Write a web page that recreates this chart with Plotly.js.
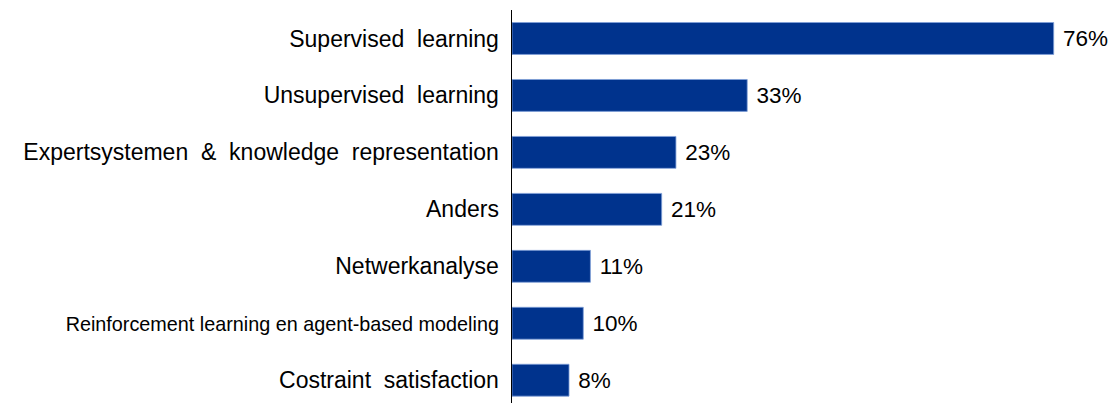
<!DOCTYPE html>
<html>
<head>
<meta charset="utf-8">
<script src="https://cdn.plot.ly/plotly-3.0.1.min.js"></script>
<style>html,body{margin:0;padding:0;background:#fff;}#chart{width:1115px;height:403px;}</style>
</head>
<body>
<div id="chart"></div>
<script>
const categories = [
  "Supervised&nbsp; learning",
  "Unsupervised&nbsp; learning",
  "Expertsystemen&nbsp;&nbsp;&amp;&nbsp; knowledge&nbsp; representation",
  "Anders",
  "Netwerkanalyse",
  "<span style=\"font-size:19.8px\">Reinforcement learning en agent-based modeling</span>",
  "Costraint&nbsp; satisfaction"
];
const values = [76, 33, 23, 21, 11, 10, 8];
const valueLabels = values.map(v => "\u00A0" + v + "%");
const positions = categories.map((c, i) => i);

const trace = {
  type: "bar",
  orientation: "h",
  x: values,
  y: positions,
  text: valueLabels,
  textposition: "outside",
  cliponaxis: false,
  textfont: {family: "Liberation Sans, Arial, sans-serif", size: 22.5, color: "#000"},
  marker: {color: "#00338D", line: {color: "#7f9fd8", width: 0.8}},
  hoverinfo: "none"
};

const layout = {
  width: 1115,
  height: 403,
  margin: {l: 512, r: 0, t: 9.5, b: 0, pad: 0},
  paper_bgcolor: "#fff",
  plot_bgcolor: "#fff",
  bargap: 0.44,
  showlegend: false,
  font: {family: "Liberation Sans, Arial, sans-serif", size: 23, color: "#000"},
  xaxis: {
    range: [0, 84.6],
    visible: false,
    showgrid: false,
    zeroline: false
  },
  yaxis: {
    range: [6.4, -0.5],
    tickmode: "array",
    tickvals: positions,
    ticktext: categories,
    showline: true,
    linecolor: "#000",
    linewidth: 1.5,
    ticks: "",
    showgrid: false,
    zeroline: false,
    ticklabelstandoff: 7,
    tickfont: {family: "Liberation Sans, Arial, sans-serif", size: 23, color: "#000"}
  }
};

Plotly.newPlot("chart", [trace], layout, {staticPlot: true, displayModeBar: false});
</script>
</body>
</html>
